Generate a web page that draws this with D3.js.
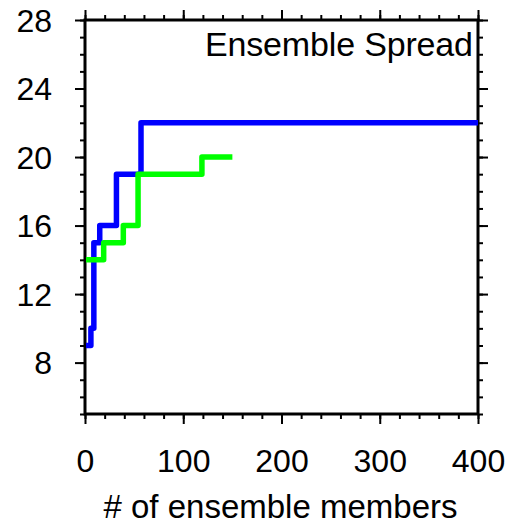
<!DOCTYPE html>
<html>
<head>
<meta charset="utf-8">
<script src="https://cdn.jsdelivr.net/npm/d3@7"></script>
<style>
  html, body { margin: 0; padding: 0; background: #fff; }
  svg text { font-family: "Liberation Sans", Arial, Helvetica, sans-serif; fill: #000; }
</style>
</head>
<body>
<div id="chart"></div>
<script>
// ensemble spread vs. number of ensemble members (step curves)
const blueMembers = [1, 6, 9, 15, 32, 57, 400];
const blueSpread  = [9, 10, 15, 16, 19, 22, 22];
const greenMembers = [1, 19, 39, 54, 119, 150];
const greenSpread  = [14, 15, 16, 19, 20, 20];

const xMajorTicks = [0, 100, 200, 300, 400];
const yMajorTicks = [8, 12, 16, 20, 24, 28];
const titleText = "Ensemble Spread";
const xTitle = "# of ensemble members";

const W = 506, H = 527;
const m = { left: 85, right: 28, top: 20, bottom: 113 };

const svg = d3.select("#chart").append("svg")
  .attr("width", W).attr("height", H);

const x = d3.scaleLinear().domain([0, 400]).range([m.left, W - m.right]);
const y = d3.scaleLinear().domain([5, 28]).range([H - m.bottom, m.top]);

const xMinor = d3.range(0, 401, 20);
const yMinor = d3.range(5, 29, 1);

// minor ticks first, then major ticks with labels
function tickAxis(axisFn, scale, vals, size, tf, labels) {
  const g = svg.append("g").attr("transform", tf)
    .call(axisFn(scale).tickValues(vals).tickSize(size).tickSizeOuter(0)
      .tickFormat(labels ? d3.format("d") : ""));
  g.select(".domain").remove();
  g.selectAll(".tick line").attr("stroke", "#000").attr("stroke-width", 2);
  return g;
}

const bottomY = y.range()[0], topY = y.range()[1];
const leftX = x.range()[0], rightX = x.range()[1];

tickAxis(d3.axisBottom, x, xMinor, 5, `translate(0,${bottomY})`, false);
tickAxis(d3.axisTop, x, xMinor, 5, `translate(0,${topY})`, false);
tickAxis(d3.axisLeft, y, yMinor, 5, `translate(${leftX},0)`, false);
tickAxis(d3.axisRight, y, yMinor, 5, `translate(${rightX},0)`, false);

const gx = tickAxis(d3.axisBottom, x, xMajorTicks, 10, `translate(0,${bottomY})`, true);
gx.selectAll(".tick text").attr("font-size", 32).attr("dy", 0).attr("y", 58);
tickAxis(d3.axisTop, x, xMajorTicks, 10, `translate(0,${topY})`, false);
const gy = tickAxis(d3.axisLeft, y, yMajorTicks, 10, `translate(${leftX},0)`, true);
gy.selectAll(".tick text").attr("font-size", 32).attr("x", -33).attr("dy", "0.35em");
tickAxis(d3.axisRight, y, yMajorTicks, 10, `translate(${rightX},0)`, false);

// frame
svg.append("rect")
  .attr("x", leftX).attr("y", topY)
  .attr("width", rightX - leftX).attr("height", bottomY - topY)
  .attr("fill", "none").attr("stroke", "#000").attr("stroke-width", 3);

const line = d3.line()
  .x(d => x(d[0])).y(d => y(d[1]))
  .curve(d3.curveStepAfter);

const series = [
  { name: "blue", color: "#0000ff", pts: d3.zip(blueMembers, blueSpread) },
  { name: "green", color: "#00ff00", pts: d3.zip(greenMembers, greenSpread) }
];

svg.append("g").selectAll("path")
  .data(series)
  .join("path")
  .attr("d", d => line(d.pts))
  .attr("fill", "none")
  .attr("stroke", d => d.color)
  .attr("stroke-width", 5.5)
  .attr("stroke-linejoin", "round")
  .attr("stroke-linecap", "butt");

// title inside plot, top right
svg.append("text")
  .attr("x", rightX - 5).attr("y", 56)
  .attr("text-anchor", "end")
  .attr("font-size", 34)
  .attr("textLength", 268)
  .text(titleText);

// x axis title
svg.append("text")
  .attr("x", (leftX + rightX) / 2 - 1).attr("y", 518)
  .attr("text-anchor", "middle")
  .attr("font-size", 33)
  .text(xTitle);
</script>
</body>
</html>
